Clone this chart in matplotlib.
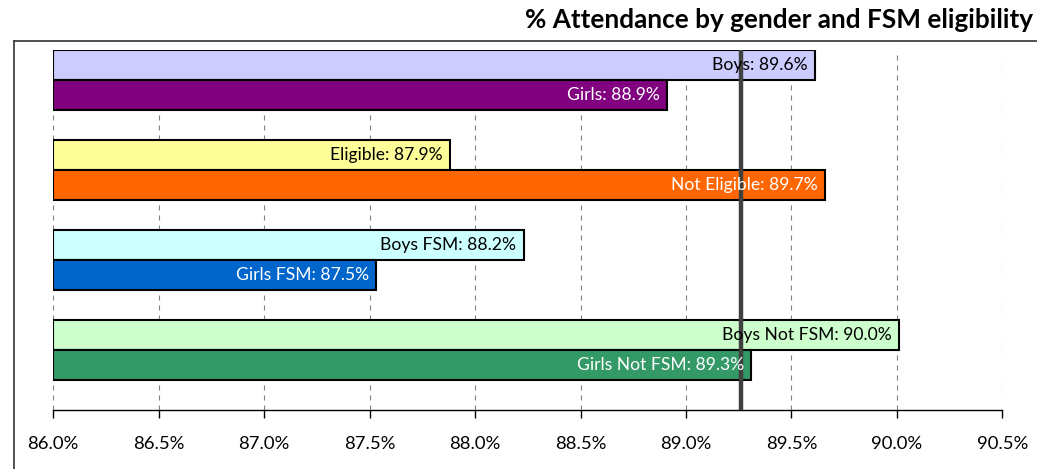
import matplotlib
matplotlib.use("Agg")
import matplotlib.pyplot as plt
from matplotlib.lines import Line2D

plt.rcParams['font.family'] = ['Lato', 'DejaVu Sans']

# Data
groups = ["Gender", "FSM", "Boys by FSM", "Girls by FSM"]
top_labels = ["Boys", "Eligible", "Boys FSM", "Boys Not FSM"]
top_values = [89.61, 87.88, 88.23, 90.01]
bottom_labels = ["Girls", "Not Eligible", "Girls FSM", "Girls Not FSM"]
bottom_values = [88.91, 89.66, 87.53, 89.31]
top_colors = ["#CCCCFF", "#FFFF99", "#CCFFFF", "#CCFFCC"]
bottom_colors = ["#800080", "#FF6600", "#0066CC", "#339966"]
top_text_colors = ["black", "black", "black", "black"]
bottom_text_colors = ["white", "white", "white", "white"]
overall = 89.26
xmin, xmax = 86.0, 90.5
ticks = [86.0, 86.5, 87.0, 87.5, 88.0, 88.5, 89.0, 89.5, 90.0, 90.5]
title = "% Attendance by gender and FSM eligibility"

fig = plt.figure(figsize=(10.37, 4.69), dpi=100)
ax = fig.add_axes([53.3/1037, 1 - 410/469, (1002.3 - 53.3)/1037, 360/469])

# Frame lines (figure)
fig.add_artist(Line2D([14/1037, 1.0], [1 - 41/469, 1 - 41/469], transform=fig.transFigure,
                      color="#333333", lw=1.2))
fig.add_artist(Line2D([14/1037, 14/1037], [0, 1 - 41/469], transform=fig.transFigure,
                      color="#333333", lw=1.2))

h = 1/3
pos = list(range(len(groups)))
for i in pos:
    ax.barh(i - h/2, top_values[i] - xmin, left=xmin, height=h, color=top_colors[i],
            edgecolor="black", linewidth=1.5, zorder=3)
    ax.barh(i + h/2, bottom_values[i] - xmin, left=xmin, height=h, color=bottom_colors[i],
            edgecolor="black", linewidth=1.5, zorder=3)
    ax.annotate(f"{top_labels[i]}: {top_values[i]:.1f}%", (top_values[i], i - h/2),
                xytext=(-5.2, 0), textcoords="offset points", ha="right", va="center",
                fontsize=12.6, color=top_text_colors[i], zorder=5)
    ax.annotate(f"{bottom_labels[i]}: {bottom_values[i]:.1f}%", (bottom_values[i], i + h/2),
                xytext=(-5.2, 0), textcoords="offset points", ha="right", va="center",
                fontsize=12.6, color=bottom_text_colors[i], zorder=5)

ax.axvline(overall, color="#404040", lw=3.2, zorder=4)

ax.set_xlim(xmin, xmax)
ax.set_ylim(3 + 60/90, -30/90)
ax.set_xticks(ticks)
ax.set_xticklabels([f"{t:.1f}%" for t in ticks], fontsize=13.3)
ax.set_yticks([])
ax.xaxis.grid(True, linestyle=(0, (4.5, 4.5)), color="#808080", lw=0.8, zorder=0)
ax.set_axisbelow(True)
for s in ["top", "right", "left"]:
    ax.spines[s].set_visible(False)
ax.spines["bottom"].set_linewidth(1.0)
ax.tick_params(axis="x", direction="out", length=5.5, width=1.0, pad=13.5)
ax.patch.set_alpha(0)

fig.text(1033/1037, 1 - 20/469, title, ha="right", va="center", fontsize=18.8,
         fontweight="bold")

fig.savefig("out.png", dpi=100)
